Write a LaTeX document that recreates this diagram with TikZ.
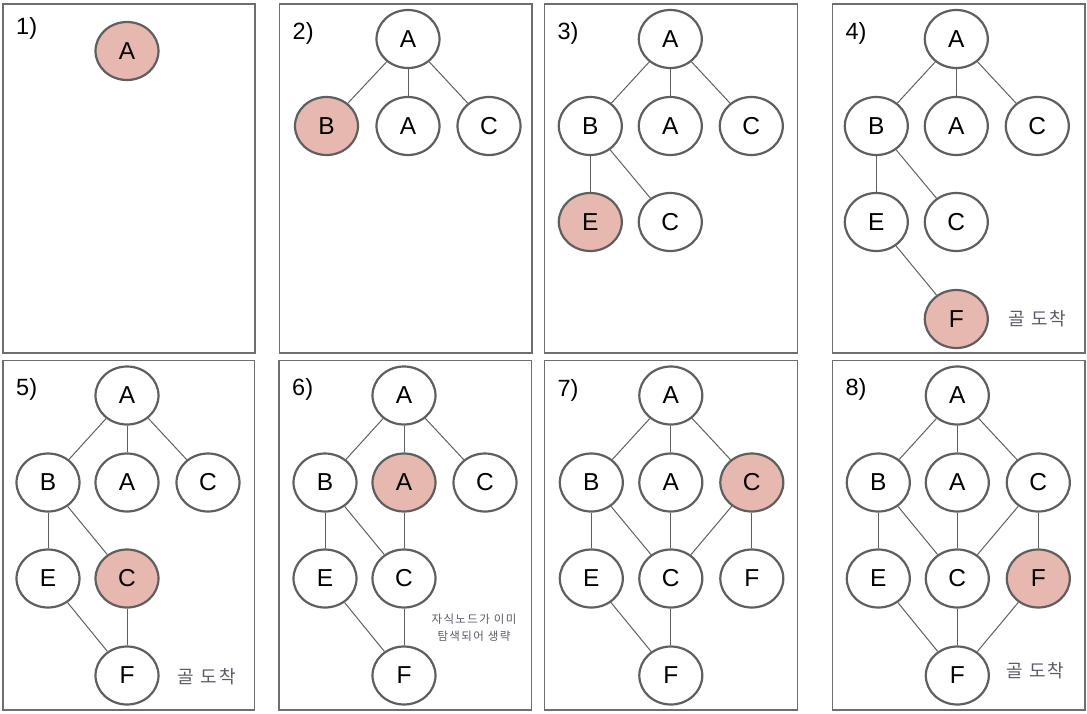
\documentclass[tikz,border=0pt]{standalone}
\usepackage{fontspec}
\setmainfont{Liberation Sans}
\newfontfamily\kofont[LetterSpace=12]{Noto Sans CJK KR}
\usepackage{tikz}
\usetikzlibrary{shapes.geometric}
\usetikzlibrary{positioning}

\definecolor{nodeline}{HTML}{5F5F5F}
\definecolor{visited}{HTML}{E6B8AF}
\definecolor{framegray}{HTML}{6E6E6E}
\definecolor{notegray}{HTML}{5A5A66}

\begin{document}
\begin{tikzpicture}[x=1pt,y=-1pt,
  vert/.style={ellipse,draw=nodeline,line width=2.2pt,fill=white,
    minimum width=63pt,minimum height=58pt,inner sep=0pt,
    font=\fontsize{24.5}{24.5}\selectfont},
  cur/.style={vert,fill=visited},
  edge/.style={draw=nodeline,line width=1pt},
  panel/.style={draw=framegray,line width=1.3pt},
  stepno/.style={anchor=west,inner sep=0pt,font=\fontsize{23.5}{23.5}\selectfont},
  goal/.style={font=\kofont\fontsize{18}{18}\selectfont,text=notegray},
  skipnote/.style={font=\kofont\fontsize{11.5}{17}\selectfont,text=notegray,align=center}]
\useasboundingbox (0,0) rectangle (1087,713);

\begin{scope}[shift={(3,4)}]
\draw[panel] (0,0) rectangle (252,349);
\node[stepno] (n1) at (13,24) {1)};
\node[cur] (a1) at (124,47) {A};
\end{scope}

\begin{scope}[shift={(279.5,4)}]
\draw[panel] (0,0) rectangle (252.5,349);
\node[stepno] (n2) at (13,29) {2)};
\node[vert] (a2) at (128.5,35) {A};
\node[cur]  (b2) at (47,122) {B};
\node[vert] (aa2) at (128.5,122) {A};
\node[vert] (c2) at (209.5,122) {C};
\draw[edge] (a2) -- (b2);
\draw[edge] (a2) -- (aa2);
\draw[edge] (a2) -- (c2);
\end{scope}

\begin{scope}[shift={(544.3,4)}]
\draw[panel] (0,0) rectangle (253,349);
\node[stepno] (n3) at (13,29) {3)};
\node[vert] (a3) at (126,35) {A};
\node[vert] (b3) at (46,122) {B};
\node[vert] (aa3) at (126,122) {A};
\node[vert] (c3) at (207,122) {C};
\node[cur]  (e3) at (46,218) {E};
\node[vert] (cc3) at (126,218) {C};
\draw[edge] (a3) -- (b3);
\draw[edge] (a3) -- (aa3);
\draw[edge] (a3) -- (c3);
\draw[edge] (b3) -- (e3);
\draw[edge] (b3) -- (cc3);
\end{scope}

\begin{scope}[shift={(832.3,4)}]
\draw[panel] (0,0) rectangle (252.7,349);
\node[stepno] (n4) at (13,29) {4)};
\node[vert] (a4) at (124,35) {A};
\node[vert] (b4) at (44,122) {B};
\node[vert] (aa4) at (124,122) {A};
\node[vert] (c4) at (205,122) {C};
\node[vert] (e4) at (44,218) {E};
\node[vert] (cc4) at (124,218) {C};
\node[cur]  (f4) at (124,315) {F};
\node[goal] (g4) at (205,315) {골 도착};
\draw[edge] (a4) -- (b4);
\draw[edge] (a4) -- (aa4);
\draw[edge] (a4) -- (c4);
\draw[edge] (b4) -- (e4);
\draw[edge] (b4) -- (cc4);
\draw[edge] (e4) -- (f4);
\end{scope}

\begin{scope}[shift={(3,360.5)}]
\draw[panel] (0,0) rectangle (251.5,349.5);
\node[stepno] (n5) at (13,29) {5)};
\node[vert] (a5) at (124,35) {A};
\node[vert] (b5) at (45,122) {B};
\node[vert] (aa5) at (124,122) {A};
\node[vert] (c5) at (205,122) {C};
\node[vert] (e5) at (45,218) {E};
\node[cur]  (cc5) at (124,218) {C};
\node[vert] (f5) at (124,315) {F};
\node[goal] (g5) at (204,316) {골 도착};
\draw[edge] (a5) -- (b5);
\draw[edge] (a5) -- (aa5);
\draw[edge] (a5) -- (c5);
\draw[edge] (b5) -- (e5);
\draw[edge] (b5) -- (cc5);
\draw[edge] (e5) -- (f5);
\draw[edge] (cc5) -- (f5);
\end{scope}

\begin{scope}[shift={(279,360.5)}]
\draw[panel] (0,0) rectangle (252.3,349.5);
\node[stepno] (n6) at (13,29) {6)};
\node[vert] (a6) at (125,35) {A};
\node[vert] (b6) at (46,122) {B};
\node[cur]  (aa6) at (125,122) {A};
\node[vert] (c6) at (206,122) {C};
\node[vert] (e6) at (46,218) {E};
\node[vert] (cc6) at (125,218) {C};
\node[vert] (f6) at (125,315) {F};
\node[skipnote] (s6) at (195,267) {자식노드가 이미\\탐색되어 생략};
\draw[edge] (a6) -- (b6);
\draw[edge] (a6) -- (aa6);
\draw[edge] (a6) -- (c6);
\draw[edge] (b6) -- (e6);
\draw[edge] (b6) -- (cc6);
\draw[edge] (aa6) -- (cc6);
\draw[edge] (e6) -- (f6);
\draw[edge] (cc6) -- (f6);
\end{scope}

\begin{scope}[shift={(544.3,360.5)}]
\draw[panel] (0,0) rectangle (253,349.5);
\node[stepno] (n7) at (13,30) {7)};
\node[vert] (a7) at (126.5,35) {A};
\node[vert] (b7) at (47,122) {B};
\node[vert] (aa7) at (126.5,122) {A};
\node[cur]  (c7) at (207.5,122) {C};
\node[vert] (e7) at (47,218) {E};
\node[vert] (cc7) at (126.5,218) {C};
\node[vert] (ff7) at (207.5,218) {F};
\node[vert] (f7) at (126.5,315) {F};
\draw[edge] (a7) -- (b7);
\draw[edge] (a7) -- (aa7);
\draw[edge] (a7) -- (c7);
\draw[edge] (b7) -- (e7);
\draw[edge] (b7) -- (cc7);
\draw[edge] (aa7) -- (cc7);
\draw[edge] (c7) -- (cc7);
\draw[edge] (c7) -- (ff7);
\draw[edge] (e7) -- (f7);
\draw[edge] (cc7) -- (f7);
\end{scope}

\begin{scope}[shift={(832.3,360.5)}]
\draw[panel] (0,0) rectangle (252.7,349.5);
\node[stepno] (n8) at (13,29) {8)};
\node[vert] (a8) at (125,35) {A};
\node[vert] (b8) at (46,122) {B};
\node[vert] (aa8) at (125,122) {A};
\node[vert] (c8) at (206,122) {C};
\node[vert] (e8) at (46,218) {E};
\node[vert] (cc8) at (125,218) {C};
\node[cur]  (ff8) at (206,218) {F};
\node[vert] (f8) at (125,315) {F};
\node[goal] (g8) at (203,310) {골 도착};
\draw[edge] (a8) -- (b8);
\draw[edge] (a8) -- (aa8);
\draw[edge] (a8) -- (c8);
\draw[edge] (b8) -- (e8);
\draw[edge] (b8) -- (cc8);
\draw[edge] (aa8) -- (cc8);
\draw[edge] (c8) -- (cc8);
\draw[edge] (c8) -- (ff8);
\draw[edge] (e8) -- (f8);
\draw[edge] (cc8) -- (f8);
\draw[edge] (ff8) -- (f8);
\end{scope}
\end{tikzpicture}
\end{document}
